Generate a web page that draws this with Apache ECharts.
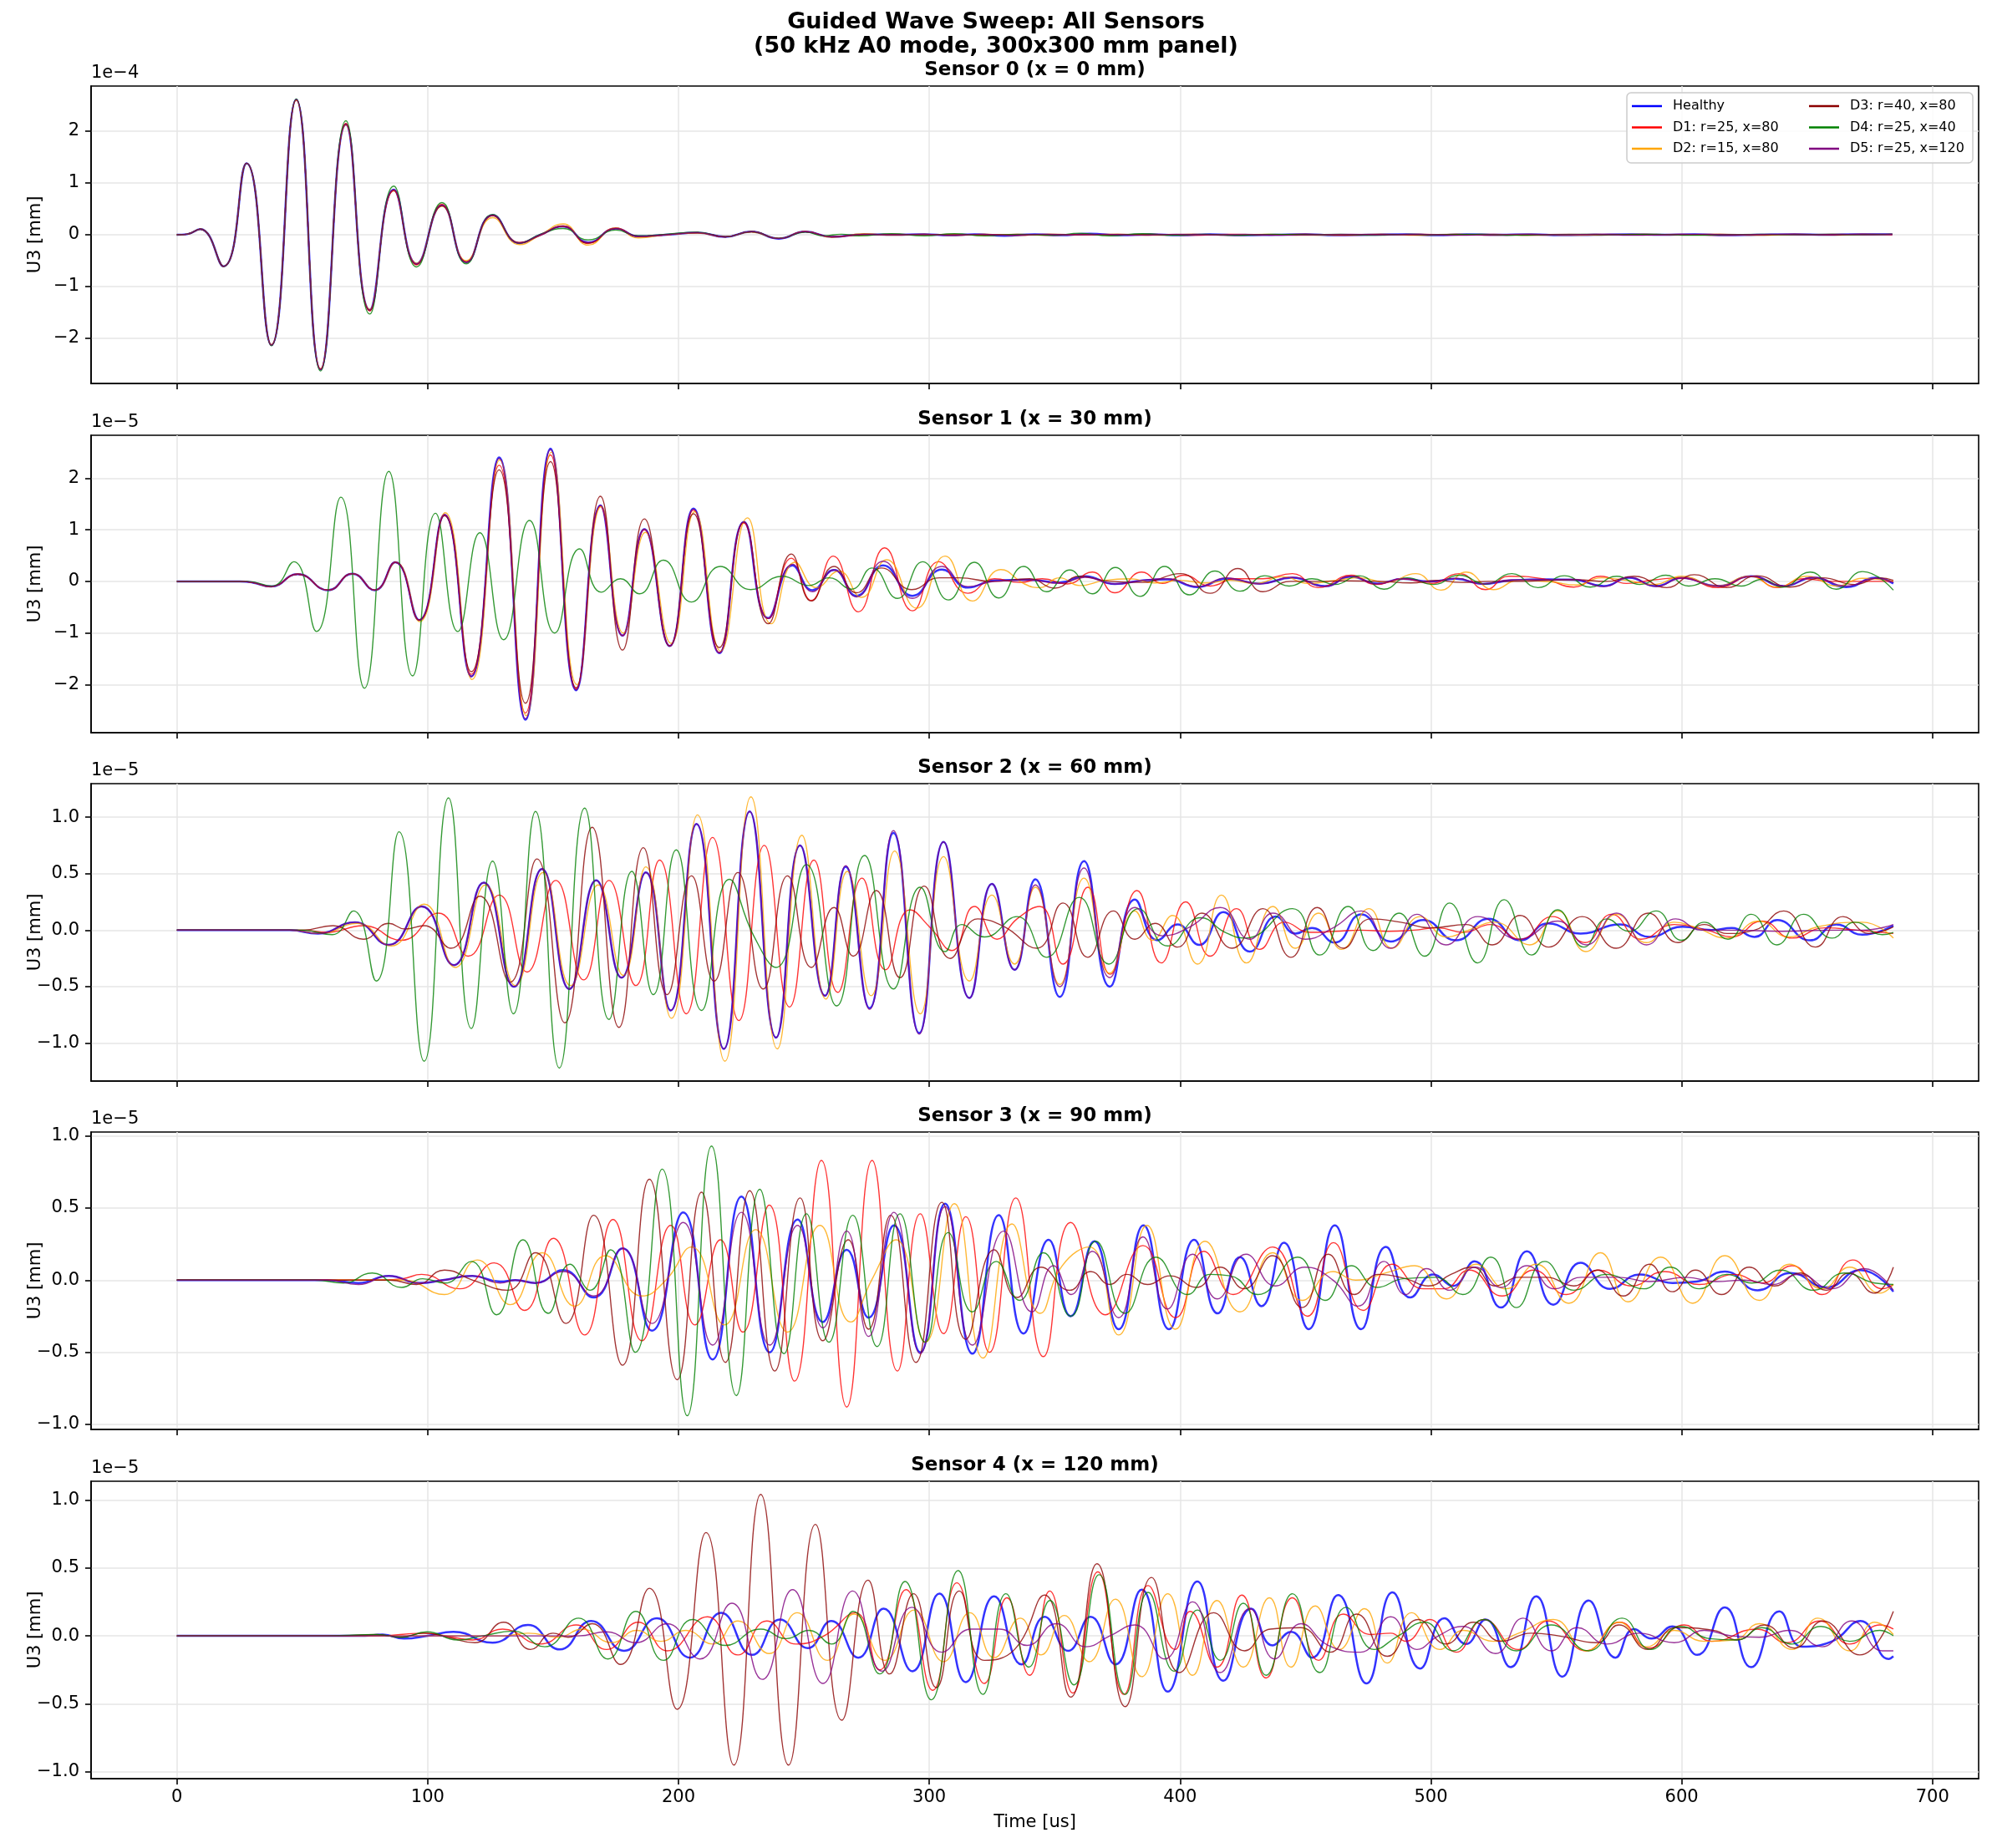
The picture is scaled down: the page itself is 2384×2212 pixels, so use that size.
<!DOCTYPE html>
<html><head><meta charset="utf-8">
<script src="https://cdn.jsdelivr.net/npm/echarts@6/dist/echarts.min.js"></script>
<style>html,body{margin:0;padding:0;background:#fff}#c{width:2384px;height:2212px}</style>
</head><body><div id="c"></div>
<script>
// ---------- labels / categories ----------
const seriesNames = ['Healthy','D1: r=25, x=80','D2: r=15, x=80','D3: r=40, x=80','D4: r=25, x=40','D5: r=25, x=120'];
const sensorTitles = ['Sensor 0 (x = 0 mm)','Sensor 1 (x = 30 mm)','Sensor 2 (x = 60 mm)','Sensor 3 (x = 90 mm)','Sensor 4 (x = 120 mm)'];
const sensorExponents = ['1e\u22124','1e\u22125','1e\u22125','1e\u22125','1e\u22125'];
const xTickValues = [0,100,200,300,400,500,600,700];
const yTickValues = [[-2,-1,0,1,2],[-2,-1,0,1,2],[-1,-0.5,0,0.5,1],[-1,-0.5,0,0.5,1],[-1,-0.5,0,0.5,1]];
const yTickDecimals = [0,0,1,1,1];
const yRanges = [[-2.87,2.87],[-2.93,2.83],[-1.335,1.296],[-1.035,1.027],[-1.05,1.137]];
const xRange = [-34.2,718.4];

// ---------- Sensor 0 (values in 1e-4 mm) ----------
const s0_healthy = [[0,0],[4,0.01],[9.3,0.11],[18.6,-0.61],[27.8,1.38],[37.7,-2.13],[47.6,2.61],[57.3,-2.6],[67.4,2.13],[76.9,-1.45],[86.5,0.87],[95.6,-0.56],[105.7,0.57],[115.4,-0.53],[125.9,0.38],[136.6,-0.16],[145,0],[154,0.16],[164,-0.15],[175,0.12],[184,-0.03],[195,0],[207.6,0.04],[218.7,-0.04],[229,0.06],[240,-0.075],[250.6,0.06],[261,-0.04],[274,0.01],[286,0],[298,0.01],[308,-0.01],[318,0.01],[330,-0.02],[342,0.01],[352,-0.01],[364,0.02],[376,-0.01],[388,0.01],[400,-0.01],[412,0.01],[425,-0.01],[438,0],[450,0.01],[462,-0.01],[475,0],[490,0.01],[502,-0.01],[514,0.01],[527,0],[540,0.01],[552,-0.01],[565,0],[580,0.01],[592,0],[605,0.01],[618,-0.01],[630,0],[645,0.01],[658,0],[670,0.01],[684,0.01]];
const s0_d1 = [[0,0],[4,0.01],[9.3,0.11],[18.6,-0.61],[27.8,1.38],[37.7,-2.13],[47.6,2.6],[57.3,-2.59],[67.4,2.15],[76.9,-1.47],[86.5,0.85],[95.6,-0.58],[105.7,0.59],[115.4,-0.52],[125.9,0.37],[136.6,-0.15],[145,-0.01],[154,0.17],[164,-0.17],[175,0.13],[184,-0.03],[195,0],[207.6,0.04],[218.7,-0.04],[229,0.06],[240,-0.07],[250.6,0.06],[261,-0.04],[274,0],[286,0.01],[298,0],[310,0.01],[322,-0.01],[335,0.01],[348,-0.01],[362,0.01],[375,0],[390,0.01],[405,-0.01],[420,0.01],[435,0],[450,0.01],[465,-0.01],[480,0],[495,0.01],[510,0],[525,0.01],[540,-0.01],[555,0],[570,0.01],[585,0],[600,0.01],[615,-0.01],[630,0],[645,0.01],[660,0],[672,0.01],[684,0]];
const s0_d2 = [[0,0],[4,0.01],[9.3,0.11],[18.6,-0.61],[27.8,1.38],[37.7,-2.12],[47.6,2.6],[57.3,-2.59],[67.4,2.12],[76.9,-1.44],[86.5,0.86],[95.6,-0.55],[105.7,0.55],[115.4,-0.5],[125.9,0.33],[136.6,-0.19],[145,0],[154,0.21],[164,-0.2],[175,0.13],[184,-0.06],[195,0],[207.6,0.03],[218.7,-0.04],[229,0.05],[240,-0.07],[250.6,0.06],[261,-0.05],[274,0.02],[286,-0.01],[298,0.01],[310,-0.01],[322,0.01],[335,-0.01],[348,0.01],[362,0],[375,0.01],[390,-0.01],[405,0.01],[420,0],[435,0.01],[450,-0.01],[465,0],[480,0.01],[495,-0.01],[510,0.01],[525,0],[540,0.01],[555,-0.01],[570,0],[585,0.01],[600,0],[615,0.01],[630,-0.01],[645,0],[660,0.01],[672,0],[684,0.01]];
const s0_d3 = [[0,0],[4,0.01],[9.3,0.11],[18.6,-0.61],[27.8,1.38],[37.7,-2.13],[47.6,2.61],[57.3,-2.6],[67.4,2.14],[76.9,-1.46],[86.5,0.86],[95.6,-0.57],[105.7,0.56],[115.4,-0.53],[125.9,0.37],[136.6,-0.16],[145,0],[154,0.16],[164,-0.16],[175,0.12],[184,-0.03],[195,0],[207.6,0.04],[218.7,-0.04],[229,0.06],[240,-0.07],[250.6,0.06],[261,-0.04],[274,0.01],[286,0],[298,0.01],[310,-0.01],[322,0.01],[335,-0.01],[348,0.01],[362,0],[375,0.01],[390,0],[405,0.01],[420,-0.01],[435,0],[450,0.01],[465,0],[480,0.01],[495,0],[510,0.01],[525,-0.01],[540,0],[555,0.01],[570,0],[585,0.01],[600,0],[615,0.01],[630,0],[645,0.01],[660,0],[672,0.01],[684,0.01]];
const s0_d4 = [[0,0],[4,0.01],[9.3,0.11],[18.6,-0.61],[27.8,1.38],[37.7,-2.14],[47.6,2.62],[57.3,-2.63],[67.4,2.2],[76.9,-1.53],[86.5,0.94],[95.6,-0.62],[105.7,0.62],[115.4,-0.56],[125.9,0.39],[136.6,-0.16],[145,0.01],[154,0.12],[164,-0.1],[175,0.09],[184,-0.02],[195,0.01],[207.6,0.05],[218.7,-0.04],[229,0.06],[240,-0.07],[250.6,0.05],[258,-0.02],[265,0.01],[272,-0.02],[285,0.02],[298,-0.02],[310,0.02],[322,-0.02],[336,0.01],[350,-0.01],[360,0.03],[372,-0.02],[385,0.02],[398,-0.01],[410,0.01],[422,-0.01],[436,0.01],[450,0],[464,0.01],[478,-0.01],[492,0.01],[506,0],[520,0.01],[534,-0.01],[548,0],[562,0.01],[576,0],[590,0.01],[604,-0.01],[618,0],[632,0.01],[646,0],[660,0.01],[672,0],[684,0.01]];
const s0_d5 = [[0,0],[4,0.01],[9.3,0.11],[18.6,-0.61],[27.8,1.38],[37.7,-2.13],[47.6,2.61],[57.3,-2.6],[67.4,2.13],[76.9,-1.45],[86.5,0.87],[95.6,-0.56],[105.7,0.57],[115.4,-0.53],[125.9,0.38],[136.6,-0.16],[145,0],[154,0.16],[164,-0.15],[175,0.12],[184,-0.03],[195,0],[207.6,0.04],[218.7,-0.04],[229,0.06],[240,-0.075],[250.6,0.06],[261,-0.04],[274,0.01],[286,0],[298,0.01],[308,-0.01],[320,0.01],[332,-0.01],[345,0.01],[358,0],[370,0.01],[384,-0.01],[398,0.01],[412,0],[426,0.01],[440,-0.01],[454,0],[468,0.01],[482,0],[496,0.01],[510,-0.01],[524,0],[538,0.01],[552,0],[566,0.01],[580,-0.01],[594,0],[608,0.01],[622,0],[636,0.01],[650,0],[664,0.01],[676,0],[684,0.01]];

// ---------- Sensor 1 (values in 1e-5 mm) ----------
const s1_healthy = [[0,0],[25,0],[30,-0.02],[37.5,-0.1],[48.2,0.14],[60.3,-0.17],[70,0.15],[78.9,-0.17],[87.1,0.37],[96.6,-0.75],[106.7,1.29],[117.4,-1.84],[128.5,2.4],[139,-2.68],[149,2.57],[159.2,-2.11],[168.9,1.47],[177.7,-1.05],[186.4,1.01],[196.5,-1.25],[206,1.41],[216.3,-1.39],[226.1,1.15],[235.8,-0.71],[245.5,0.31],[253.4,-0.17],[262,0.22],[271,-0.28],[281.6,0.31],[293.3,-0.28],[305,0.23],[315.4,-0.12],[326,0.02],[340,0.03],[352,-0.02],[362,0.1],[374,-0.05],[385,0.02],[395,0.04],[407,-0.11],[418.6,0.05],[431.7,-0.04],[444.8,0.07],[457.8,-0.09],[468,0.09],[478.7,-0.04],[489,0.05],[499.6,0],[510,0.05],[520.6,-0.05],[532,0.02],[546.7,0.04],[557,0.03],[568.9,-0.09],[579,0.07],[589.8,-0.09],[600,0.07],[614.6,-0.09],[627.7,0.1],[640.7,-0.09],[652.5,0.07],[665.6,-0.11],[677.3,0.07],[684.4,-0.04]];
const s1_d1 = [[0,0],[25,0],[30,-0.02],[37.5,-0.1],[48.2,0.14],[60.3,-0.17],[70,0.15],[78.9,-0.17],[87.1,0.37],[96.6,-0.75],[106.7,1.29],[117.4,-1.8],[128.5,2.25],[139,-2.55],[149,2.45],[159.2,-2.08],[168.9,1.45],[177.7,-1.05],[186.4,1],[196.5,-1.25],[206,1.38],[216.3,-1.38],[226.1,1.13],[235.8,-0.72],[245,0.45],[253,-0.37],[261.7,0.49],[271.7,-0.59],[282.2,0.65],[293.3,-0.57],[303.7,0.38],[315.4,-0.23],[326,0.05],[336,-0.02],[345,0.05],[355,-0.05],[365,0.18],[374,-0.22],[384.7,0.18],[393,-0.04],[401.6,0.12],[412,-0.09],[422,0.05],[433,0.05],[444.8,0.15],[455,-0.12],[468.3,0.12],[478,-0.06],[489,0.05],[500,-0.04],[511.4,0.15],[521.8,-0.16],[531,0.1],[545,0.05],[557,-0.11],[567.6,0.1],[578,-0.04],[589,0.03],[600,0.07],[614.6,-0.12],[627.7,0.1],[638,-0.12],[648.6,0.05],[660,0],[672,0],[684.4,0]];
const s1_d2 = [[0,0],[25,0],[30,-0.02],[37.5,-0.1],[48.2,0.14],[60.3,-0.17],[70,0.15],[79,-0.17],[87.3,0.37],[96.8,-0.78],[107,1.33],[117.7,-1.9],[128.7,2.35],[139.3,-2.6],[149.3,2.5],[159.5,-2],[169.2,1.45],[178,-1],[186.8,0.95],[197,-1.2],[206.5,1.35],[216.8,-1.35],[227.5,1.23],[237,-0.82],[246.5,0.37],[255,-0.12],[264,0.2],[273,-0.31],[283,0.42],[295,-0.52],[306.3,0.49],[317.2,-0.38],[328.5,0.23],[338,-0.05],[344,-0.12],[352,0.07],[360,-0.08],[370,0.02],[380,0.05],[390,-0.03],[400,0.02],[410,-0.03],[420,0.02],[430,-0.04],[441,0.09],[451,-0.04],[462,0.02],[472,0.07],[482,-0.02],[494,0.15],[504,-0.17],[514,0.18],[525,-0.16],[535,0.02],[548,-0.01],[558,-0.07],[568,0.07],[578,0.02],[589,-0.06],[600,0.1],[614,-0.09],[627,0.1],[638,-0.11],[650,0.1],[662,-0.09],[672,0.06],[684.4,0]];
const s1_d3 = [[0,0],[25,0],[30,-0.02],[37.5,-0.1],[48.2,0.14],[60.3,-0.17],[70,0.15],[78.9,-0.17],[87.1,0.37],[96.6,-0.75],[106.7,1.27],[117.4,-1.75],[128.5,2.16],[139,-2.36],[149,2.32],[159.2,-2.06],[168.9,1.65],[177.7,-1.33],[186.4,1.21],[196.5,-1.25],[206,1.31],[216.3,-1.28],[226.1,1.15],[235.8,-0.82],[245,0.53],[253,-0.38],[262,0.29],[271,-0.22],[281,0.26],[293,-0.16],[304,0.07],[312,0.07],[325,0],[340,0.05],[350,-0.13],[360,0.1],[372,0],[385,-0.02],[400.3,0.15],[412,-0.23],[423,0.25],[433,-0.2],[444,0],[455,0],[466,0.01],[480,0],[492,-0.03],[502,0.02],[512,-0.02],[523,0],[535,0],[547,0.02],[558,0.03],[570,0],[581,0.1],[594,-0.12],[605,0.13],[618,-0.12],[630,0.11],[643,-0.11],[656,0.07],[669,-0.06],[679,0.07],[684.4,0.02]];
const s1_d4 = [[0,0],[28,0],[38,-0.09],[46.6,0.38],[55.7,-0.97],[65.4,1.63],[74.8,-2.07],[84.5,2.13],[94,-1.83],[103.1,1.32],[112,-0.97],[120.8,0.94],[130.3,-1.13],[140.6,1.18],[150.7,-1],[160.6,0.63],[169.3,-0.21],[176.9,0.05],[184.4,-0.24],[194,0.41],[205.2,-0.4],[216.7,0.29],[228.8,-0.16],[241.3,0.1],[252,-0.08],[260,0.07],[269,-0.15],[277.2,0.26],[287.3,-0.33],[297.4,0.38],[307.6,-0.36],[318,0.37],[327.7,-0.32],[337.6,0.29],[346.8,-0.2],[356,0.22],[365,-0.24],[374.2,0.27],[384,-0.29],[393.8,0.29],[403.7,-0.26],[413.9,0.2],[423.9,-0.19],[433.8,0.11],[443.5,-0.09],[452.6,0.05],[461.7,-0.06],[471.4,0.11],[481.3,-0.15],[490.5,0.07],[501,-0.06],[511.4,0.12],[521.8,-0.05],[532.3,0.15],[542.7,-0.12],[553.2,0.11],[563.6,-0.11],[574.1,0.1],[583.3,-0.06],[593.7,0.12],[602.8,-0.09],[613.3,0.05],[623.8,-0.09],[632,0.04],[640.2,-0.11],[651.2,0.18],[661.6,-0.15],[672.1,0.19],[684.4,-0.17]];
const s1_d5 = [[0,0],[25,0],[30,-0.02],[37.5,-0.1],[48.2,0.14],[60.3,-0.17],[70,0.15],[78.9,-0.17],[87.1,0.37],[96.6,-0.75],[106.7,1.29],[117.4,-1.84],[128.5,2.38],[139,-2.66],[149,2.55],[159.2,-2.1],[168.9,1.47],[177.7,-1.05],[186.4,1.01],[196.5,-1.25],[206,1.4],[216.3,-1.38],[226.1,1.15],[235.8,-0.72],[245.5,0.33],[253.4,-0.2],[262,0.22],[271,-0.3],[281.6,0.39],[293.3,-0.33],[305,0.29],[315.4,-0.1],[326,0],[340,0.03],[352,-0.04],[362,0.08],[374,-0.05],[385,0.02],[395,0.05],[407,-0.1],[418.6,0.07],[431.7,-0.05],[444.8,0.08],[457.8,-0.1],[468,0.1],[478.7,-0.05],[489,0.05],[499.6,-0.01],[510,0.06],[520.6,-0.05],[532,0.03],[546.7,0.03],[557,0.04],[568.9,-0.1],[579,0.08],[589.8,-0.1],[600,0.06],[614.6,-0.09],[627.7,0.1],[640.7,-0.09],[652.5,0.08],[665.6,-0.09],[677.3,0.06],[684.4,-0.02]];

// ---------- Sensor 2 (values in 1e-5 mm) ----------
const s2_healthy = [[0,0],[45,0],[56.3,-0.03],[71,0.07],[84.5,-0.13],[97.6,0.21],[110.4,-0.31],[122.3,0.42],[134.4,-0.5],[145.6,0.54],[156.5,-0.52],[167.2,0.44],[177.3,-0.42],[187,0.51],[196.9,-0.71],[207.2,0.94],[218.1,-1.05],[228.4,1.05],[238.9,-0.95],[248.5,0.75],[258.4,-0.58],[266.7,0.56],[276.2,-0.69],[285.7,0.86],[296,-0.91],[305.7,0.78],[316,-0.6],[325,0.41],[334,-0.35],[342.3,0.45],[352,-0.59],[361.7,0.61],[372,-0.5],[382,0.27],[391,-0.09],[399,0.05],[407.6,-0.13],[417.3,0.16],[427.8,-0.19],[438.2,0.12],[446,-0.03],[452.6,0.02],[461.7,-0.11],[472.2,0.14],[484,-0.1],[497,0.09],[510,-0.09],[523,0.1],[535.7,-0.09],[546.7,0.06],[559.7,-0.03],[575.4,0.05],[587.2,-0.06],[600.3,0.03],[612,0],[620,0.02],[629,-0.06],[638.1,0.09],[651.2,-0.09],[661.6,0.05],[672,-0.04],[684.4,0.04]];
const s2_d1 = [[0,0],[50,0],[60,-0.02],[74.4,0.04],[89.6,-0.09],[104.3,0.15],[116.2,-0.23],[128.5,0.31],[139.6,-0.37],[151.1,0.44],[162.2,-0.44],[172.3,0.44],[183,-0.49],[192.5,0.62],[203.1,-0.74],[213.6,0.82],[224.1,-0.8],[234.2,0.75],[244.3,-0.68],[254,0.62],[263.5,-0.55],[273.2,0.46],[282.6,-0.35],[292.3,0.18],[300.5,0.02],[309,-0.18],[318,0.21],[327,-0.08],[335,0.1],[344,0.21],[353.3,-0.3],[363.2,0.38],[372.1,-0.39],[382.8,0.35],[392.5,-0.29],[402.2,0.25],[412,-0.23],[422.5,0.19],[431.7,-0.17],[441.6,0.07],[452,-0.02],[462,-0.01],[472,0],[483,-0.01],[493,0],[503,0.02],[513,-0.02],[523.8,0.05],[535.5,-0.08],[548.5,0.12],[561.5,-0.11],[572,0.14],[583.8,-0.08],[597,0.05],[610,0],[620,-0.06],[632,0.08],[644,-0.07],[657,0.02],[670,0],[684.4,-0.03]];
const s2_d2 = [[0,0],[45,0],[57,-0.03],[72,0.06],[85.5,-0.14],[98.6,0.23],[111,-0.33],[123,0.4],[135,-0.49],[146,0.51],[157,-0.49],[168,0.4],[178,-0.4],[187,0.56],[197.2,-0.78],[207.6,1.02],[218.5,-1.16],[228.9,1.18],[239.4,-1.05],[249.2,0.84],[258.8,-0.61],[267.3,0.52],[276.8,-0.58],[286.2,0.7],[296.4,-0.74],[305.7,0.65],[316,-0.45],[325,0.31],[334,-0.3],[342.3,0.38],[352,-0.48],[361.7,0.46],[372,-0.38],[382,0.17],[389,-0.09],[397,0.13],[406.9,-0.3],[416.5,0.31],[426.5,-0.29],[437,0.21],[446,-0.16],[455.2,0.15],[464.4,-0.17],[475.3,0.19],[484.5,-0.16],[495.7,0.12],[506.2,-0.06],[515,0],[525.5,0.07],[539.4,-0.13],[550.6,0.17],[561.8,-0.19],[574.1,0.14],[585.9,-0.11],[597,0.07],[606,0.02],[618,-0.07],[630.8,0.08],[642.5,-0.06],[654.3,0.03],[672,0.07],[684.4,-0.07]];
const s2_d3 = [[0,0],[50,0],[62.3,0.04],[74.4,-0.08],[84.5,0.06],[91,0.01],[98.6,0.04],[109.3,-0.16],[120.8,0.3],[132.9,-0.46],[143.6,0.63],[154.7,-0.82],[165.6,0.91],[176.3,-0.86],[186,0.73],[195.5,-0.57],[205.2,0.48],[214.2,-0.45],[223.7,0.51],[233.8,-0.52],[243.5,0.48],[253,-0.33],[262,0.2],[269.7,-0.23],[278.8,0.35],[288.3,-0.42],[298,0.39],[308.4,-0.25],[319.3,0.1],[330,0.03],[342.9,-0.16],[353.3,0.24],[363.2,-0.24],[373.4,0.17],[382,-0.08],[390,0.06],[399,-0.15],[408.7,0.15],[420.7,-0.16],[433,0.19],[444.2,-0.24],[454.7,0.2],[465.1,-0.16],[476,0.1],[488,0.07],[500,0.02],[514,0.05],[524.5,-0.13],[535.6,0.13],[547,-0.15],[560.3,0.12],[573.9,-0.16],[586.7,0.15],[598.5,-0.11],[609,0.05],[618,-0.03],[629,0],[640.7,0.17],[653.3,-0.15],[664.3,0.12],[675,-0.03],[684.4,0.03]];
const s2_d4 = [[0,0],[50,0],[62,-0.04],[70.4,0.17],[79.5,-0.45],[88.6,0.87],[98.6,-1.16],[108.3,1.17],[117.4,-0.87],[125.9,0.61],[134.2,-0.74],[143,1.05],[152.5,-1.22],[162.6,1.08],[172.3,-0.79],[181.4,0.52],[190,-0.57],[199.1,0.71],[209.2,-0.71],[220.3,0.45],[230,-0.05],[238.9,-0.33],[251,0.58],[263.1,-0.67],[274.2,0.66],[285.7,-0.52],[296.4,0.38],[306.3,-0.19],[313,0.05],[322,-0.06],[335,0.12],[346.8,-0.24],[359.8,0.29],[371.6,-0.3],[383.4,0.19],[395.1,-0.14],[408.2,0.11],[418,-0.02],[426,-0.07],[444.8,0.19],[455.7,-0.22],[467,0.21],[476.9,-0.18],[487.3,0.15],[497.5,-0.23],[507.5,0.24],[518.7,-0.29],[529.2,0.27],[540.2,-0.22],[550.6,0.18],[561,-0.15],[570.2,0.1],[579,-0.01],[589.8,0.17],[600,-0.09],[609,0.07],[618.5,-0.08],[627.7,0.14],[638,-0.13],[648.6,0.14],[660,-0.07],[669,0.07],[680,-0.04],[684.4,-0.02]];
const s2_d5 = [[0,0],[45,0],[56.3,-0.03],[71,0.07],[84.5,-0.13],[97.6,0.21],[110.4,-0.31],[122.3,0.42],[134.4,-0.5],[145.6,0.54],[156.5,-0.52],[167.2,0.44],[177.3,-0.42],[187,0.51],[196.9,-0.71],[207.2,0.94],[218.1,-1.05],[228.4,1.05],[238.9,-0.95],[248.5,0.75],[258.4,-0.58],[266.7,0.57],[276.2,-0.7],[285.7,0.88],[296,-0.92],[305.7,0.78],[316,-0.6],[325,0.41],[334,-0.35],[342.3,0.4],[352,-0.5],[361.7,0.55],[372,-0.42],[382,0.2],[393,-0.05],[404,0.03],[416,0.2],[427.8,-0.08],[437,0.15],[450,-0.08],[461,0.02],[472.2,0.17],[484,-0.16],[494.4,0.14],[506,-0.13],[518.7,0.12],[535,-0.08],[550.6,0.08],[562,-0.13],[574,0.15],[586,-0.13],[597.6,0.1],[608,0],[620,0],[640,-0.01],[660,0],[672,0],[684.4,0.05]];

// ---------- Sensor 3 (values in 1e-5 mm) ----------
const s3_healthy = [[0,0],[60,0],[72.4,-0.02],[84.5,0.03],[96.6,-0.02],[106,0],[117.8,0.03],[128.9,-0.01],[135,0],[143,-0.02],[154.1,0.07],[166.2,-0.12],[177.7,0.22],[189.4,-0.35],[201.9,0.47],[213.6,-0.55],[225.1,0.58],[236.4,-0.5],[247.5,0.42],[257.6,-0.29],[267.1,0.21],[275.8,-0.26],[285.9,0.38],[296.4,-0.5],[306.3,0.53],[317.2,-0.51],[327.7,0.45],[337.6,-0.37],[347.6,0.28],[356.4,-0.25],[365.8,0.27],[375.5,-0.34],[385.4,0.38],[395.6,-0.34],[405.6,0.28],[415,-0.23],[423.9,0.16],[432.5,-0.18],[441.4,0.26],[451.3,-0.34],[461.7,0.38],[472.2,-0.34],[482.1,0.23],[491.8,-0.12],[501,0.04],[508.8,-0.04],[517.4,0.13],[527.9,-0.19],[538.3,0.2],[548.8,-0.17],[559.7,0.12],[571.5,-0.06],[583.3,0.04],[596.3,-0.02],[606,-0.01],[617.2,0.06],[630.3,-0.07],[643.4,0.05],[657.7,-0.05],[671.3,0.07],[684.4,-0.08]];
const s3_d1 = [[0,0],[80,0],[90,0.01],[97.6,0.04],[112.8,-0.06],[126.5,0.12],[138.6,-0.21],[150.1,0.29],[162.6,-0.38],[173.9,0.42],[185.4,-0.42],[196.9,0.38],[206.6,-0.31],[216.7,0.28],[225.7,-0.36],[236.2,0.52],[246.3,-0.7],[257,0.83],[267.1,-0.88],[277.2,0.83],[287.3,-0.63],[296.4,0.46],[305.7,-0.37],[314.6,0.44],[324,-0.5],[334.5,0.57],[345.5,-0.53],[356.4,0.4],[370.3,-0.24],[385.2,0.24],[398.2,-0.26],[409.5,0.2],[421.2,-0.1],[436.9,0.23],[450.8,-0.25],[461.2,0.26],[473,-0.21],[484.5,0.11],[497,-0.06],[505,-0.06],[515.3,0.07],[528.4,-0.11],[541,0.07],[554,-0.1],[567,0.07],[580,-0.04],[593,0.06],[607,-0.03],[621,0.04],[632,-0.02],[644,0.1],[656,-0.1],[668.2,0.14],[680,-0.06],[684.4,-0.03]];
const s3_d2 = [[0,0],[90,0],[106.7,-0.1],[119.8,0.14],[133,-0.17],[145.7,0.19],[158.6,-0.18],[170.9,0.17],[185.4,-0.11],[195,0],[205.2,0.23],[218.3,-0.31],[230.8,0.35],[243.5,-0.36],[256.4,0.38],[268.7,-0.29],[277,0],[286.7,0.28],[298.4,-0.43],[310,0.53],[321.4,-0.54],[333,0.39],[344.2,-0.23],[353,0.1],[363.8,0.23],[375.5,-0.38],[386.8,0.38],[398.2,-0.34],[410,0.27],[423.9,-0.22],[436.9,0.19],[448.7,-0.14],[461,0.06],[470,0],[482,0.05],[493.5,0.1],[506.2,-0.13],[518,0.11],[530,-0.06],[542,0.11],[555,-0.16],[567.6,0.19],[578.6,-0.15],[591.6,0.16],[604.4,-0.16],[617.2,0.17],[631,-0.14],[643,0.11],[656,-0.06],[667,0.09],[679,-0.09],[684.4,-0.03]];
const s3_d3 = [[0,0],[85,0],[95.6,-0.03],[106.7,0.07],[118,0],[132,-0.07],[143,0.19],[155.1,-0.3],[166.2,0.45],[177.7,-0.59],[188.4,0.7],[199.5,-0.69],[209.2,0.61],[218.7,-0.57],[228.4,0.62],[238.4,-0.63],[248.5,0.57],[257.6,-0.42],[267.7,0.28],[275.8,-0.34],[284.6,0.45],[294.7,-0.57],[305,0.54],[314.6,-0.41],[325.9,0.21],[335,-0.12],[344.5,0.09],[356,-0.07],[364.4,0.06],[372,-0.03],[378.7,0.04],[387,-0.03],[396,0.03],[406.5,-0.05],[416,0.09],[425.5,-0.06],[436.9,0.17],[448.7,-0.19],[459.1,0.18],[469.5,-0.1],[479,0.04],[490,0.01],[499,-0.04],[508,0.04],[516.6,0.09],[525.7,-0.04],[535,0.02],[546,0.02],[557,-0.04],[566.3,0.07],[576.7,-0.11],[587.2,0.11],[596.3,-0.08],[605.5,0.07],[615.9,-0.1],[627,0.09],[637,-0.04],[647.2,0.05],[657.7,-0.07],[666.7,0.05],[676.7,-0.09],[684.4,0.09]];
const s3_d4 = [[0,0],[55,0],[66.4,-0.02],[77.9,0.05],[89.6,-0.05],[98,0.01],[107,-0.02],[117.4,0.13],[127.5,-0.24],[138,0.28],[148.1,-0.23],[156.7,0.11],[164.8,-0.07],[172.9,0.21],[182.8,-0.5],[193.5,0.77],[203.5,-0.94],[213.2,0.93],[223.1,-0.8],[232.4,0.63],[242.1,-0.51],[251,0.46],[260,-0.43],[269.5,0.45],[279.2,-0.46],[288.3,0.46],[298.4,-0.43],[307.6,0.33],[317.2,-0.22],[326.7,0.13],[336,-0.14],[345.5,0.19],[356.4,-0.25],[366.4,0.27],[378.1,-0.23],[390.4,0.16],[403,-0.1],[412,0.04],[420,0.03],[431,-0.1],[446.9,0.16],[457.8,-0.14],[468.3,0.1],[478.7,-0.05],[488.9,0.01],[501.9,0.02],[512.7,-0.1],[523.9,0.16],[534.1,-0.19],[545.4,0.13],[557,-0.07],[570,0.04],[585,-0.06],[595.4,0.09],[607,-0.06],[618,0.04],[628,-0.02],[639.5,0.07],[652.5,-0.07],[665,0.05],[677,-0.02],[684.4,-0.03]];
const s3_d5 = [[0,0],[60,0],[72.4,-0.03],[84.5,0.03],[96.6,-0.02],[106,0],[117.8,0.03],[128.9,-0.02],[135,0],[143,-0.02],[154.1,0.06],[166.2,-0.11],[177.7,0.22],[189.4,-0.3],[201.9,0.4],[213.6,-0.45],[225.1,0.47],[236.4,-0.45],[247.5,0.38],[257.6,-0.33],[267.1,0.34],[275.8,-0.39],[285.9,0.47],[296.4,-0.51],[306.3,0.51],[317.2,-0.45],[329.7,0.34],[341,-0.22],[349.5,0.1],[356.6,-0.1],[365,0.2],[375.5,-0.26],[385.2,0.3],[395,-0.2],[405,0.18],[414.8,-0.13],[426.3,0.18],[438,-0.04],[449.7,0.09],[461,0],[471,-0.18],[481.3,0.13],[489.8,-0.1],[498.3,0.08],[507.5,-0.07],[517.7,0.09],[528,-0.05],[538.3,0.1],[549.4,-0.06],[560,0.02],[575,0.02],[587,-0.01],[601.7,0.02],[613.5,-0.01],[625,0],[636,-0.03],[646.7,0.04],[659.7,-0.06],[672.7,0.08],[684.4,-0.07]];

// ---------- Sensor 4 (values in 1e-5 mm) ----------
const s4_healthy = [[0,0],[60,0],[75,0],[82,0.01],[90.6,-0.02],[100,0],[110.3,0.03],[125.9,-0.05],[140,0.08],[152.7,-0.1],[165.2,0.11],[178.3,-0.11],[191.4,0.13],[204.5,-0.16],[217,0.17],[229.4,-0.14],[240.5,0.12],[251.6,-0.09],[261,0.11],[271.7,-0.16],[281.8,0.2],[293.3,-0.26],[304,0.31],[314.6,-0.34],[325.9,0.29],[336.8,-0.21],[346,0.14],[355.4,-0.11],[364.3,0.14],[374.2,-0.21],[384.7,0.34],[395.1,-0.41],[406.9,0.4],[417.3,-0.33],[428.3,0.2],[436.9,-0.07],[444.2,0.03],[452.6,-0.16],[463,0.3],[474.3,-0.35],[484.7,0.32],[495.7,-0.24],[505.4,0.13],[514,-0.06],[521.8,0.12],[531.8,-0.23],[542,0.29],[552.4,-0.3],[562.9,0.26],[573.6,-0.16],[581,0.05],[588,-0.02],[596.3,0.07],[606.2,-0.14],[617.2,0.21],[627.7,-0.23],[638.9,0.18],[648,-0.08],[660,-0.04],[671.3,0.11],[682.5,-0.17],[684.4,-0.15]];
const s4_d1 = [[0,0],[80,0],[98,0.02],[110,-0.01],[118,-0.03],[129.9,0.05],[145,-0.06],[159.2,0.08],[171.3,-0.1],[184,0.1],[195.5,-0.11],[211.6,0.14],[223.7,-0.14],[235.2,0.11],[246.9,-0.06],[258,0],[270.5,0.17],[280.2,-0.25],[290.7,0.34],[301.4,-0.4],[311,0.39],[322,-0.35],[331,0.28],[340,-0.29],[348,0.33],[357.2,-0.42],[367.2,0.47],[377.6,-0.43],[387.3,0.37],[398,-0.1],[404,0.18],[414.7,-0.23],[424.6,0.3],[434.3,-0.31],[444.8,0.28],[455.2,-0.18],[465.1,0.16],[476,0.01],[484,0.02],[490,-0.04],[499.6,0.12],[510.1,-0.12],[521.1,0.12],[534.9,-0.1],[546.7,0.11],[561.8,-0.11],[575.4,0.1],[587,-0.09],[601,0.08],[612,-0.04],[630,0.05],[642,-0.05],[655,0.11],[667,-0.06],[679,0.08],[684.4,0.05]];
const s4_d2 = [[0,0],[90,0],[130,0],[140,0.02],[152,-0.01],[161.6,0.05],[173.3,-0.05],[183.4,0.04],[193,-0.04],[203,0.04],[213.6,-0.06],[223.7,0.11],[236.2,-0.13],[247.3,0.17],[259.4,-0.18],[270,0.16],[282.3,-0.18],[294,0.19],[305.7,-0.19],[316.2,0.17],[325.9,-0.16],[336.3,0.13],[344.6,-0.14],[353.8,0.15],[363.8,-0.19],[374.2,0.27],[384.7,-0.3],[395.1,0.31],[405,-0.29],[414.7,0.26],[425.2,-0.23],[435.6,0.28],[444.2,-0.23],[453.9,0.22],[463.5,-0.1],[473.5,0.2],[482.6,-0.2],[492.3,0.17],[503.6,-0.1],[513,0.04],[525,-0.04],[535,0.02],[548.8,0.12],[562,-0.11],[575,0.1],[586,-0.08],[597,0.04],[609,-0.04],[621,-0.03],[630.9,0.09],[644,-0.1],[654.3,0.13],[667,-0.11],[677,0.1],[684.4,0.01]];
const s4_d3 = [[0,0],[65,0],[80,0.01],[89,-0.01],[98.6,0.02],[108,-0.01],[118.8,-0.05],[130.3,0.1],[141,-0.1],[150,0.02],[156,-0.01],[165.6,0.09],[176.9,-0.21],[188.4,0.35],[199.5,-0.54],[211,0.76],[222.1,-0.95],[232.8,1.04],[243.9,-0.95],[254.6,0.82],[265.1,-0.62],[275.6,0.41],[284.2,-0.28],[293.7,0.31],[302.8,-0.38],[312,0.33],[322,-0.18],[334,-0.1],[346,0.3],[356.4,-0.45],[366.9,0.53],[378.1,-0.52],[388.6,0.43],[399.8,-0.27],[413.4,0.17],[425.7,-0.11],[436,0.05],[448,0.06],[459.9,-0.12],[470.4,0.16],[482.6,-0.15],[494.9,0.12],[506,-0.06],[517,0.1],[528,-0.04],[540,0.02],[551,0],[566,-0.05],[575,0.08],[586.5,-0.1],[597.8,0.06],[613,0.04],[622,-0.03],[633,0.08],[645,-0.09],[656.3,0.11],[671,-0.14],[684.4,0.18]];
const s4_d4 = [[0,0],[60,0],[79.5,0.01],[90,-0.01],[99.7,0.03],[112,-0.03],[122,0],[134,0.035],[146.7,-0.08],[160.2,0.13],[171.9,-0.17],[183,0.18],[194,-0.18],[205.6,0.12],[218.7,-0.07],[232.8,0.05],[243,-0.02],[252,0.04],[261,-0.06],[269.7,0.18],[280.2,-0.28],[290.3,0.4],[300.8,-0.47],[311.5,0.48],[321.4,-0.43],[330.6,0.31],[339.7,-0.23],[348.1,0.26],[357.7,-0.36],[367.7,0.45],[378.1,-0.43],[387.3,0.32],[397.7,-0.26],[406.9,0.19],[416,-0.18],[425.2,0.24],[434.3,-0.29],[444.8,0.31],[455.7,-0.27],[466.2,0.21],[477.4,-0.1],[487,0],[497.5,0.1],[508.8,-0.11],[521.1,0.12],[534.1,-0.11],[548,0.08],[562.9,-0.11],[576.2,0.13],[587.7,-0.1],[599.5,0.07],[611,-0.02],[622,-0.03],[632,0.06],[644,-0.06],[655.5,0.07],[667,-0.04],[679,0.04],[684.4,0]];
const s4_d5 = [[0,0],[100,0],[160,0],[171.3,0.03],[183,-0.05],[195.5,0.09],[208.6,-0.17],[221.3,0.24],[233.4,-0.32],[245.5,0.34],[257.6,-0.35],[269.5,0.33],[281.2,-0.26],[293.1,0.21],[305,-0.12],[316.7,0.05],[328,0.05],[339,-0.07],[350.7,0.09],[362.5,-0.08],[372,0],[382,0.08],[393.8,-0.17],[405,0.25],[416,-0.27],[427.8,0.2],[437.7,-0.17],[448.2,0.09],[459,-0.07],[472,-0.12],[484,0.14],[494.4,-0.1],[503,0],[512.7,0.07],[525.8,-0.13],[536.7,0.13],[548,-0.11],[558.4,0.06],[570.2,-0.06],[583,0.02],[597,-0.05],[609,0.04],[620,0],[631,-0.01],[643,0.04],[656,-0.08],[667.8,0.11],[680,-0.11],[684.4,-0.11]];

const sensorData = [
  [s0_healthy, s0_d1, s0_d2, s0_d3, s0_d4, s0_d5],
  [s1_healthy, s1_d1, s1_d2, s1_d3, s1_d4, s1_d5],
  [s2_healthy, s2_d1, s2_d2, s2_d3, s2_d4, s2_d5],
  [s3_healthy, s3_d1, s3_d2, s3_d3, s3_d4, s3_d5],
  [s4_healthy, s4_d1, s4_d2, s4_d3, s4_d4, s4_d5]
];

// ---------- styling / layout ----------
const seriesColors = ['#0000ff','#ff0000','#ffa500','#8b0000','#008000','#800080'];
const seriesWidths = [2.5,1.4,1.4,1.4,1.4,1.4];
const FONT = 'DejaVu Sans';
const GRID_TOPS = [103,521,938,1355,1773];
const GRID_H = 356, GRID_L = 109, GRID_R = 16;
const AX_CX = (GRID_L + (2384 - GRID_R)) / 2;
const GRID_COLOR = '#e6e6e6';

function fmtTick(v, dec) {
  const s = Math.abs(v).toFixed(dec);
  return (v < 0 ? '\u2212' : '') + s;
}

const grids = [], xAxes = [], yAxes = [], series = [], graphics = [];
for (let i = 0; i < 5; i++) {
  grids.push({ left: GRID_L, right: GRID_R, top: GRID_TOPS[i], height: GRID_H, show: true,
    borderColor: '#000', borderWidth: 1.6, backgroundColor: 'transparent', containLabel: false });
  xAxes.push({ type: 'value', gridIndex: i, min: xRange[0], max: xRange[1],
    axisLine: { show: true, onZero: false, lineStyle: { color: '#000', width: 1.6 } },
    axisTick: { show: true, inside: false, length: 7, lineStyle: { color: '#000', width: 1.6 }, customValues: xTickValues },
    axisLabel: { show: i === 4, customValues: xTickValues, color: '#000', fontSize: 21, fontFamily: FONT, margin: 12 },
    splitLine: { show: true, lineStyle: { color: GRID_COLOR, width: 1.5 } },
    minorTick: { show: false } });
  const dec = yTickDecimals[i];
  yAxes.push({ type: 'value', gridIndex: i, min: yRanges[i][0], max: yRanges[i][1],
    axisLine: { show: true, onZero: false, lineStyle: { color: '#000', width: 1.6 } },
    axisTick: { show: true, inside: false, length: 7, lineStyle: { color: '#000', width: 1.6 }, customValues: yTickValues[i] },
    axisLabel: { show: true, customValues: yTickValues[i], color: '#000', fontSize: 21, fontFamily: FONT, margin: 14,
      formatter: (v) => fmtTick(v, dec) },
    splitLine: { show: true, lineStyle: { color: GRID_COLOR, width: 1.5 } } });
  for (let j = 0; j < 6; j++) {
    series.push({ type: 'line', name: seriesNames[j], xAxisIndex: i, yAxisIndex: i,
      data: sensorData[i][j], smooth: 0.5, showSymbol: false, symbol: 'none', silent: true,
      lineStyle: { color: seriesColors[j], width: seriesWidths[j], opacity: 0.8 },
      itemStyle: { color: seriesColors[j] }, z: 3 + j, animation: false, clip: true });
  }
  graphics.push({ type: 'text', x: AX_CX, y: GRID_TOPS[i] - 19, z: 100,
    style: { text: sensorTitles[i], fontSize: 23, fontWeight: 'bold', fontFamily: FONT, fill: '#000',
      textAlign: 'center', textVerticalAlign: 'middle' } });
  graphics.push({ type: 'text', x: GRID_L, y: GRID_TOPS[i] - 15, z: 100,
    style: { text: sensorExponents[i], fontSize: 21, fontFamily: FONT, fill: '#000',
      textAlign: 'left', textVerticalAlign: 'middle' } });
  graphics.push({ type: 'text', x: 43, y: GRID_TOPS[i] + GRID_H / 2, rotation: Math.PI / 2, z: 100,
    style: { text: 'U3 [mm]', fontSize: 21, fontFamily: FONT, fill: '#000',
      textAlign: 'center', textVerticalAlign: 'middle' } });
}
graphics.push({ type: 'text', x: 1192, y: 27, z: 100,
  style: { text: 'Guided Wave Sweep: All Sensors', fontSize: 27, fontWeight: 'bold', fontFamily: FONT, fill: '#000',
    textAlign: 'center', textVerticalAlign: 'middle' } });
graphics.push({ type: 'text', x: 1192, y: 56, z: 100,
  style: { text: '(50 kHz A0 mode, 300x300 mm panel)', fontSize: 27, fontWeight: 'bold', fontFamily: FONT, fill: '#000',
    textAlign: 'center', textVerticalAlign: 'middle' } });
graphics.push({ type: 'text', x: AX_CX, y: 2182, z: 100,
  style: { text: 'Time [us]', fontSize: 21, fontFamily: FONT, fill: '#000',
    textAlign: 'center', textVerticalAlign: 'middle' } });
graphics.push({ type: 'rect', z: 50, shape: { x: 1947, y: 111, width: 414, height: 84, r: 5 },
  style: { fill: 'rgba(255,255,255,0.85)', stroke: '#cccccc', lineWidth: 1.5 } });

const legendBase = { orient: 'vertical', top: 118, itemGap: 7.5, itemWidth: 36, itemHeight: 2.5, icon: 'rect',
  padding: 0, z: 60, selectedMode: false,
  textStyle: { fontSize: 16, fontFamily: FONT, color: '#000', lineHeight: 18, padding: [0, 0, 0, 8] } };

const option = {
  backgroundColor: '#ffffff',
  animation: false,
  grid: grids,
  xAxis: xAxes,
  yAxis: yAxes,
  legend: [
    Object.assign({}, legendBase, { left: 1953, data: seriesNames.slice(0, 3) }),
    Object.assign({}, legendBase, { left: 2165, data: seriesNames.slice(3, 6) })
  ],
  graphic: { elements: graphics },
  series: series
};

const chart = echarts.init(document.getElementById('c'), null, { renderer: 'canvas', width: 2384, height: 2212 });
chart.setOption(option);
</script></body></html>
